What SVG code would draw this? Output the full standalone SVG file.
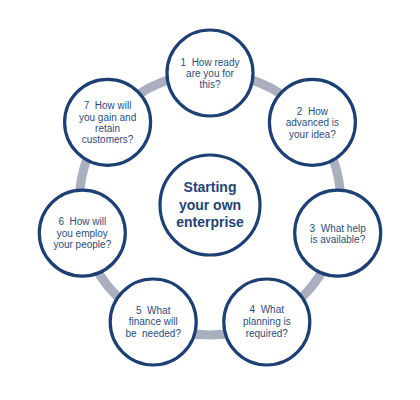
<svg xmlns="http://www.w3.org/2000/svg" width="420" height="400" viewBox="0 0 420 400">
<style>
.bg{fill:#ffffff}
.ring{fill:none;stroke:#a9afbf;stroke-width:9}
.node{fill:#ffffff;stroke:#1c4074;stroke-width:3.2}
.t{font-family:"Liberation Sans",Arial,sans-serif;font-size:10px;fill:#2a4d80;text-anchor:middle;white-space:pre}
.c{font-family:"Liberation Sans",Arial,sans-serif;font-size:14px;font-weight:bold;fill:#1f4477;text-anchor:middle}
</style>
<rect class="bg" x="0" y="0" width="420" height="400"/>
<g id="connectors">
<circle class="ring" cx="210" cy="204" r="131"/>
</g>
<g id="center">
<circle class="node" cx="210" cy="205" r="50"/>
<text class="c" x="210" y="191.5">Starting</text>
<text class="c" x="210" y="209.5">your own</text>
<text class="c" x="210" y="226.5">enterprise</text>
</g>
<g id="n1">
<circle class="node" cx="210" cy="73" r="43"/>
<text class="t" x="210" y="66">1  How ready</text>
<text class="t" x="210" y="77">are you for</text>
<text class="t" x="210" y="88">this?</text>
</g>
<g id="n2">
<circle class="node" cx="312.4" cy="122.3" r="43"/>
<text class="t" x="312.4" y="114.5">2  How</text>
<text class="t" x="312.4" y="126">advanced is</text>
<text class="t" x="312.4" y="137.5">your idea?</text>
</g>
<g id="n3">
<circle class="node" cx="337.7" cy="233.1" r="43"/>
<text class="t" x="337.7" y="231.5">3  What help</text>
<text class="t" x="337.7" y="243">is available?</text>
</g>
<g id="n4">
<circle class="node" cx="266.8" cy="322" r="43"/>
<text class="t" x="266.8" y="313">4  What</text>
<text class="t" x="266.8" y="325">planning is</text>
<text class="t" x="266.8" y="336.5">required?</text>
</g>
<g id="n5">
<circle class="node" cx="153.2" cy="322" r="43"/>
<text class="t" x="153.2" y="313.5">5  What</text>
<text class="t" x="153.2" y="325">finance will</text>
<text class="t" x="153.2" y="336.5">be  needed?</text>
</g>
<g id="n6">
<circle class="node" cx="82.3" cy="233.1" r="43"/>
<text class="t" x="82.3" y="225">6  How will</text>
<text class="t" x="82.3" y="237">you employ</text>
<text class="t" x="82.3" y="248">your people?</text>
</g>
<g id="n7">
<circle class="node" cx="107.6" cy="122.3" r="43"/>
<text class="t" x="107.6" y="108.5">7  How will</text>
<text class="t" x="107.6" y="120.5">you gain and</text>
<text class="t" x="107.6" y="131.5">retain</text>
<text class="t" x="107.6" y="143">customers?</text>
</g>
</svg>
